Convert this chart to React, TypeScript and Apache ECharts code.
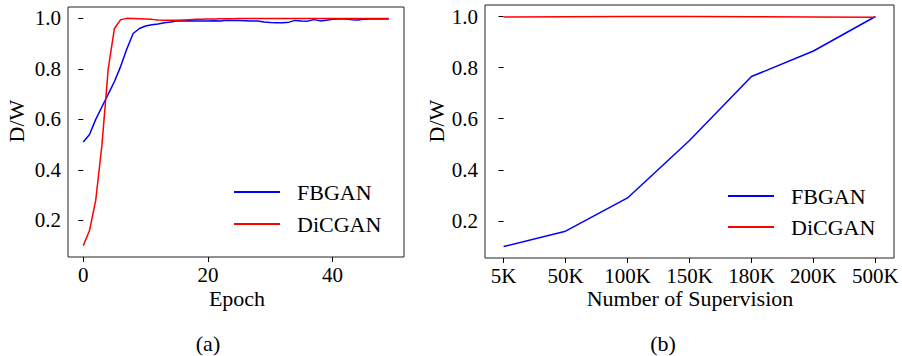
import React, { useEffect, useRef } from "react";
import * as echarts from "echarts";

const epochs: number[] = Array.from({ length: 50 }, (_, i) => i);
const fbganEpoch: number[] = [
  0.51, 0.54, 0.6, 0.65, 0.7, 0.75, 0.81, 0.88, 0.94, 0.96,
  0.97, 0.975, 0.978, 0.983, 0.986, 0.99, 0.99, 0.991, 0.99, 0.99,
  0.99, 0.991, 0.99, 0.993, 0.992, 0.992, 0.991, 0.99, 0.99, 0.986,
  0.984, 0.983, 0.983, 0.985, 0.992, 0.99, 0.989, 0.995, 0.99, 0.993,
  0.996, 0.997, 0.997, 0.995, 0.994, 0.996, 0.997, 0.997, 0.997, 0.997,
];
const dicganEpoch: number[] = [
  0.1, 0.16, 0.28, 0.5, 0.8, 0.96, 0.995, 1.0, 0.999, 0.998,
  0.997, 0.996, 0.994, 0.993, 0.993, 0.993, 0.994, 0.995, 0.996, 0.996,
  0.997, 0.997, 0.998, 0.998, 0.998, 0.999, 0.999, 0.999, 0.999, 0.999,
  0.999, 0.999, 0.999, 0.999, 0.999, 0.999, 0.999, 0.999, 0.999, 0.999,
  0.999, 0.999, 0.999, 0.999, 0.999, 0.999, 0.999, 0.999, 0.999, 0.999,
];
const supervision: string[] = ["5K", "50K", "100K", "150K", "180K", "200K", "500K"];
const fbganSup: number[] = [0.1, 0.16, 0.29, 0.515, 0.765, 0.865, 1.0];
const dicganSup: number[] = [0.998, 0.999, 1.0, 1.0, 0.999, 0.998, 0.997];
const yTicks: number[] = [0.2, 0.4, 0.6, 0.8, 1.0];
const epochTicks: number[] = [0, 20, 40];

const FONT = "Liberation Serif";
const BLUE = "#0000ff";
const RED = "#ff0000";

export default function App() {
  const ref = useRef<HTMLDivElement>(null);
  useEffect(() => {
    if (!ref.current) return;
    const chart = echarts.init(ref.current, undefined, { renderer: "svg" });
    const supIdx = supervision.map((_, i) => i);
    const tickStyle = {
      show: true,
      inside: false,
      length: 5,
      lineStyle: { color: "#000", width: 1 },
    };
    const labelStyle = {
      color: "#000",
      fontFamily: FONT,
      fontSize: 21,
    };
    const yAxisCommon = (gridIndex: number) => ({
      type: "value",
      gridIndex,
      min: 0.055,
      max: 1.045,
      axisLine: { show: false },
      splitLine: { show: false },
      axisTick: { ...tickStyle, customValues: yTicks },
      axisLabel: {
        ...labelStyle,
        margin: 7,
        customValues: yTicks,
        formatter: (v: number) => v.toFixed(1),
      },
    });
    const legendCommon = (left: number, top: number, gap: number) => ({
      orient: "vertical",
      left,
      top,
      padding: 0,
      itemGap: gap,
      icon: "rect",
      itemWidth: 46,
      itemHeight: 2,
      selectedMode: false,
      data: ["FBGAN", "DiCGAN"],
      textStyle: {
        color: "#000",
        fontFamily: FONT,
        fontSize: 22,
        lineHeight: 22,
        padding: [0, 0, 0, 12],
      },
    });
    const lineSeries = (
      name: string,
      idx: number,
      data: number[][],
      color: string
    ) => ({
      type: "line",
      name,
      xAxisIndex: idx,
      yAxisIndex: idx,
      data,
      symbol: "none",
      lineStyle: { color, width: 1.5 },
      itemStyle: { color },
    });
    const txt = (text: string, x: number, y: number, rot = 0) => ({
      type: "text",
      x,
      y,
      rotation: rot,
      style: {
        text,
        fill: "#000",
        fontFamily: FONT,
        fontSize: 22,
        align: "center",
        verticalAlign: "middle",
      },
    });
    chart.setOption({
      animation: false,
      backgroundColor: "#fff",
      grid: [
        {
          left: 68,
          top: 7,
          width: 336,
          height: 250,
          show: true,
          borderColor: "#222",
          borderWidth: 1,
          containLabel: false,
        },
        {
          left: 485,
          top: 5,
          width: 409,
          height: 253,
          show: true,
          borderColor: "#222",
          borderWidth: 1,
          containLabel: false,
        },
      ],
      xAxis: [
        {
          type: "value",
          gridIndex: 0,
          min: -2.45,
          max: 51.45,
          axisLine: { show: false },
          splitLine: { show: false },
          axisTick: { ...tickStyle, customValues: epochTicks },
          axisLabel: { ...labelStyle, margin: 7, customValues: epochTicks },
        },
        {
          type: "value",
          gridIndex: 1,
          min: -0.3,
          max: 6.3,
          axisLine: { show: false },
          splitLine: { show: false },
          axisTick: { ...tickStyle, customValues: supIdx },
          axisLabel: {
            ...labelStyle,
            margin: 7,
            hideOverlap: false,
            customValues: supIdx,
            formatter: (v: number) => supervision[Math.round(v)] ?? "",
          },
        },
      ],
      yAxis: [yAxisCommon(0), yAxisCommon(1)],
      legend: [legendCommon(234, 181, 10), legendCommon(728, 185, 9)],
      series: [
        lineSeries("FBGAN", 0, epochs.map((e, i) => [e, fbganEpoch[i]]), BLUE),
        lineSeries("DiCGAN", 0, epochs.map((e, i) => [e, dicganEpoch[i]]), RED),
        lineSeries("FBGAN", 1, supIdx.map((i) => [i, fbganSup[i]]), BLUE),
        lineSeries("DiCGAN", 1, supIdx.map((i) => [i, dicganSup[i]]), RED),
      ],
      graphic: [
        txt("Epoch", 237, 298),
        txt("Number of Supervision", 690, 298),
        txt("D/W", 16, 121, Math.PI / 2),
        txt("D/W", 436, 121, Math.PI / 2),
        txt("(a)", 208, 343),
        txt("(b)", 663, 343),
      ],
    });
    return () => chart.dispose();
  }, []);
  return <div ref={ref} style={{ width: 902, height: 356, position: "absolute", left: 0, top: 0 }} />;
}
